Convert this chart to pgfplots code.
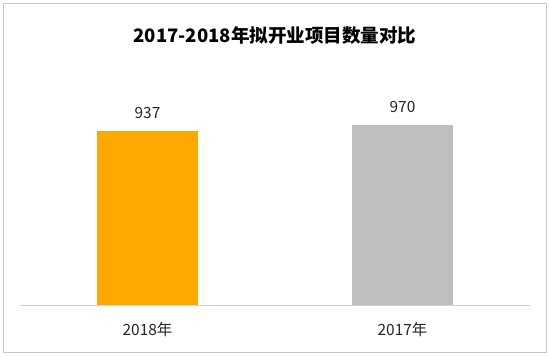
\documentclass[border=0pt]{standalone}
\usepackage{pgfplots}
\pgfplotsset{compat=1.18}
\usepackage{fontspec}
\setmainfont{Noto Sans CJK SC}
\definecolor{barorange}{HTML}{FFA800}
\definecolor{bargray}{HTML}{BFBEC0}
\definecolor{framegray}{HTML}{C8C8C8}
\definecolor{basegray}{HTML}{D0D0D0}
\definecolor{txt}{HTML}{262626}
\begin{document}
\begin{tikzpicture}[x=1bp,y=1bp]
\path[use as bounding box] (0,0) rectangle (550,356);
\fill[white] (0,0) rectangle (550,356);
\draw[framegray, line width=1bp] (3.5,4) rectangle (546.5,352.5);
\node[font=\fontsize{18.6}{22}\selectfont\bfseries, text=black] at (275,321) {2017-2018年拟开业项目数量对比};
\begin{axis}[
  at={(20bp,51bp)}, anchor=south west,
  scale only axis, width=510bp, height=186bp,
  xmin=-0.5, xmax=1.5, ymin=0, ymax=1000,
  axis x line*=bottom, axis y line=none,
  x axis line style={basegray, line width=1bp, -},
  major tick length=0, ytick=\empty,
  xtick={0,1}, xticklabels={2018年,2017年},
  xticklabel style={font=\fontsize{15.5}{18}\selectfont, text=txt, yshift=-14bp},
  /pgf/number format/assume math mode=true,
  nodes near coords,
  every node near coord/.append style={font=\fontsize{15.5}{18}\selectfont, text=txt, yshift=8bp},
  ybar, bar width=101bp, bar shift=0pt,
  clip=false,
]
\addplot[draw=none, fill=barorange] coordinates {(0,937)};
\addplot[draw=none, fill=bargray] coordinates {(1,970)};
\end{axis}
\end{tikzpicture}
\end{document}
